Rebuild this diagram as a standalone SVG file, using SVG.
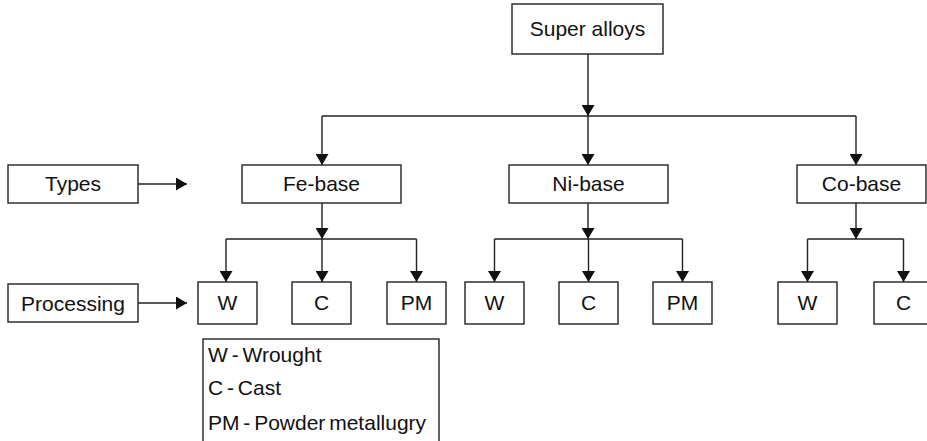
<svg xmlns="http://www.w3.org/2000/svg" width="927" height="441" viewBox="0 0 927 441">
  <defs>
    <marker id="arrow" viewBox="0 0 11 13" refX="11" refY="6.5" markerWidth="11" markerHeight="13" markerUnits="userSpaceOnUse" orient="auto">
      <path d="M0,0 L11,6.5 L0,13 Z" fill="#111"/>
    </marker>
    <style>
      .box { fill: #fff; stroke: #222; stroke-width: 1.4; }
      .lbl { font-family: "Liberation Sans", Arial, sans-serif; font-size: 21px; fill: #111; text-anchor: middle; }
      .leg { font-family: "Liberation Sans", Arial, sans-serif; font-size: 21px; fill: #111; word-spacing: -2px; }
      .wire { fill: none; stroke: #222; stroke-width: 1.4; }
      .arr { fill: none; stroke: #222; stroke-width: 1.4; marker-end: url(#arrow); }
    </style>
  </defs>
  <rect width="927" height="441" fill="#fff"/>

  <!-- connectors -->
  <g id="connectors">
    <!-- root to types -->
    <line class="arr" x1="588" y1="54" x2="588" y2="116"/>
    <line class="wire" x1="322" y1="116" x2="856" y2="116"/>
    <line class="arr" x1="322" y1="116" x2="322" y2="165"/>
    <line class="arr" x1="588" y1="116" x2="588" y2="165"/>
    <line class="arr" x1="856" y1="116" x2="856" y2="165"/>
    <!-- side labels -->
    <line class="arr" x1="138" y1="184" x2="187" y2="184"/>
    <line class="arr" x1="138" y1="303" x2="187" y2="303"/>
    <!-- Fe-base -->
    <line class="arr" x1="322" y1="203" x2="322" y2="239"/>
    <line class="wire" x1="226" y1="239" x2="416.5" y2="239"/>
    <line class="arr" x1="226" y1="239" x2="226" y2="282"/>
    <line class="arr" x1="322" y1="239" x2="322" y2="282"/>
    <line class="arr" x1="416.5" y1="239" x2="416.5" y2="282"/>
    <!-- Ni-base -->
    <line class="arr" x1="588" y1="203" x2="588" y2="239"/>
    <line class="wire" x1="494.5" y1="239" x2="682.5" y2="239"/>
    <line class="arr" x1="494.5" y1="239" x2="494.5" y2="282"/>
    <line class="arr" x1="588.5" y1="239" x2="588.5" y2="282"/>
    <line class="arr" x1="682.5" y1="239" x2="682.5" y2="282"/>
    <!-- Co-base -->
    <line class="arr" x1="856" y1="203" x2="856" y2="239"/>
    <line class="wire" x1="807.5" y1="239" x2="903.5" y2="239"/>
    <line class="arr" x1="807.5" y1="239" x2="807.5" y2="282"/>
    <line class="arr" x1="903.5" y1="239" x2="903.5" y2="282"/>
  </g>

  <g id="super-alloys">
    <rect class="box" x="512" y="4" width="151" height="50"/>
    <text class="lbl" x="587.5" y="36">Super alloys</text>
  </g>

  <g id="types">
    <rect class="box" x="8" y="165" width="130" height="38"/>
    <text class="lbl" x="73" y="191">Types</text>
  </g>
  <g id="processing">
    <rect class="box" x="8" y="284" width="130" height="38"/>
    <text class="lbl" x="73" y="311">Processing</text>
  </g>

  <g id="fe-base">
    <rect class="box" x="242" y="165" width="159" height="38"/>
    <text class="lbl" x="321.5" y="191">Fe-base</text>
  </g>
  <g id="ni-base">
    <rect class="box" x="509" y="165" width="159" height="38"/>
    <text class="lbl" x="588.5" y="191">Ni-base</text>
  </g>
  <g id="co-base">
    <rect class="box" x="797" y="165" width="129" height="38"/>
    <text class="lbl" x="861.5" y="191">Co-base</text>
  </g>

  <g id="fe-w">
    <rect class="box" x="198" y="282" width="59" height="42"/>
    <text class="lbl" x="227.5" y="310">W</text>
  </g>
  <g id="fe-c">
    <rect class="box" x="292" y="282" width="59" height="42"/>
    <text class="lbl" x="321.5" y="310">C</text>
  </g>
  <g id="fe-pm">
    <rect class="box" x="387" y="282" width="59" height="42"/>
    <text class="lbl" x="416.5" y="310">PM</text>
  </g>

  <g id="ni-w">
    <rect class="box" x="465" y="282" width="59" height="42"/>
    <text class="lbl" x="494.5" y="310">W</text>
  </g>
  <g id="ni-c">
    <rect class="box" x="559" y="282" width="59" height="42"/>
    <text class="lbl" x="588.5" y="310">C</text>
  </g>
  <g id="ni-pm">
    <rect class="box" x="653" y="282" width="59" height="42"/>
    <text class="lbl" x="682.5" y="310">PM</text>
  </g>

  <g id="co-w">
    <rect class="box" x="778" y="282" width="59" height="42"/>
    <text class="lbl" x="807.5" y="310">W</text>
  </g>
  <g id="co-c">
    <rect class="box" x="874" y="282" width="59" height="42"/>
    <text class="lbl" x="903.5" y="310">C</text>
  </g>

  <g id="legend">
    <rect class="box" x="203" y="339" width="236" height="110"/>
    <text class="leg" x="208" y="362">W - Wrought</text>
    <text class="leg" x="208" y="395">C - Cast</text>
    <text class="leg" x="208" y="430">PM - Powder metallugry</text>
  </g>
</svg>
